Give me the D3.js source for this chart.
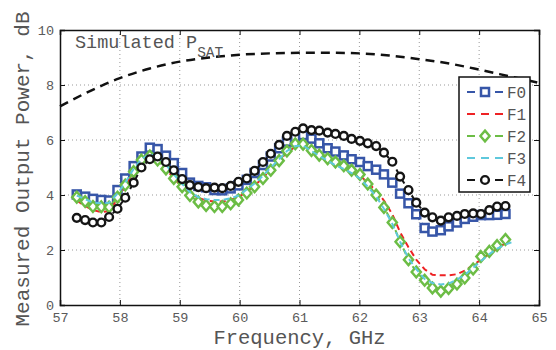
<!DOCTYPE html>
<html>
<head>
<meta charset="utf-8">
<script src="https://cdn.jsdelivr.net/npm/d3@7"></script>
<style>
  body { margin: 0; background: #fff; }
  text { font-family: "Liberation Mono", "DejaVu Sans Mono", monospace; fill: #555; }
</style>
</head>
<body>
<div id="chart"></div>
<script>
// frequency points, GHz
var freq = [57.28, 57.42, 57.55, 57.69, 57.82, 57.96, 58.09, 58.23, 58.36, 58.50,
            58.63, 58.77, 58.90, 59.04, 59.17, 59.31, 59.44, 59.58, 59.71, 59.85,
            59.98, 60.12, 60.25, 60.39, 60.52, 60.66, 60.79, 60.93, 61.06, 61.20,
            61.33, 61.47, 61.60, 61.74, 61.87, 62.01, 62.14, 62.28, 62.41, 62.55,
            62.68, 62.82, 62.95, 63.09, 63.22, 63.36, 63.49, 63.63, 63.76, 63.90,
            64.03, 64.17, 64.30, 64.44, 64.57];

var f0 = [4.02, 3.94, 3.86, 3.82, 3.80, 4.18, 4.60, 5.05, 5.40, 5.72,
          5.67, 5.43, 5.16, 4.80, 4.45, 4.33, 4.28, 4.18, 4.17, 4.24,
          4.35, 4.55, 4.80, 5.09, 5.40, 5.70, 5.94, 6.10, 6.18, 6.05,
          5.88, 5.70, 5.58, 5.44, 5.30, 5.20, 5.05, 4.92, 4.75, 4.45,
          4.05, 3.70, 3.30, 2.80, 2.67, 2.72, 2.86, 3.00, 3.13, 3.21,
          3.27, 3.27, 3.28, 3.31];
var f1 = [3.80, 3.60, 3.45, 3.38, 3.42, 3.85, 4.30, 4.85, 5.20, 5.38,
          5.25, 4.95, 4.60, 4.30, 4.05, 3.90, 3.80, 3.76, 3.76, 3.82,
          3.92, 4.12, 4.35, 4.62, 4.95, 5.25, 5.55, 5.75, 5.82, 5.65,
          5.50, 5.35, 5.20, 5.05, 4.88, 4.70, 4.45, 4.15, 3.80, 3.30,
          2.65, 2.10, 1.65, 1.30, 1.10, 1.08, 1.08, 1.12, 1.25, 1.45,
          1.65, 1.85, 2.05, 2.25];
var f2 = [3.92, 3.76, 3.58, 3.57, 3.56, 3.92, 4.36, 4.85, 5.27, 5.42,
          5.27, 4.95, 4.60, 4.30, 3.98, 3.75, 3.62, 3.58, 3.58, 3.68,
          3.82, 4.07, 4.30, 4.60, 4.90, 5.25, 5.60, 5.86, 5.85, 5.62,
          5.45, 5.32, 5.20, 5.06, 4.90, 4.75, 4.40, 4.00, 3.55, 3.00,
          2.30, 1.65, 1.20, 0.90, 0.62, 0.50, 0.60, 0.76, 0.98, 1.31,
          1.76, 1.95, 2.16, 2.38];
var f3 = [3.98, 3.85, 3.72, 3.70, 3.72, 4.05, 4.45, 4.95, 5.30, 5.50,
          5.40, 5.10, 4.75, 4.40, 4.10, 3.92, 3.85, 3.82, 3.82, 3.88,
          3.98, 4.20, 4.42, 4.70, 5.00, 5.30, 5.60, 5.78, 5.80, 5.60,
          5.42, 5.25, 5.08, 4.95, 4.80, 4.60, 4.30, 3.95, 3.50, 2.95,
          2.30, 1.70, 1.30, 0.95, 0.80, 0.75, 0.78, 0.92, 1.10, 1.35,
          1.60, 1.85, 2.05, 2.20, 2.30];
var f4 = [3.17, 3.09, 3.00, 3.00, 3.20, 3.50, 3.90, 4.45, 5.00, 5.30,
          5.40, 5.20, 4.90, 4.58, 4.36, 4.29, 4.25, 4.27, 4.25, 4.33,
          4.48, 4.60, 4.88, 5.20, 5.50, 5.82, 6.15, 6.30, 6.42, 6.36,
          6.34, 6.27, 6.22, 6.15, 6.04, 5.97, 5.88, 5.78, 5.54, 5.21,
          4.67, 4.18, 3.72, 3.36, 3.19, 3.07, 3.19, 3.24, 3.31, 3.33,
          3.31, 3.45, 3.58, 3.60];

// simulated saturated power curve
var simFreq = [57, 57.5, 58, 58.5, 59, 59.5, 60, 60.5, 61, 61.5, 62, 62.5, 63, 63.5, 64, 64.5, 65];
var simPsat = [7.22, 7.78, 8.25, 8.6, 8.85, 9.0, 9.1, 9.15, 9.17, 9.17, 9.15, 9.07, 8.94, 8.78, 8.56, 8.32, 8.08];

var seriesNames = ["F0", "F1", "F2", "F3", "F4"];
var seriesValues = [f0, f1, f2, f3, f4];
var seriesColors = ["#3756a8", "#ee2224", "#6cbd45", "#5ec8dc", "#151515"];
var seriesMarkers = ["square", "none", "diamond", "none", "circle"];

var xTicks = [57, 58, 59, 60, 61, 62, 63, 64, 65];
var yTicks = [0, 2, 4, 6, 8, 10];

var width = 556, height = 350,
    margin = {top: 30, right: 17, bottom: 45, left: 60};

var svg = d3.select("#chart").append("svg")
    .attr("width", width)
    .attr("height", height);

var w = width - margin.left - margin.right,
    h = height - margin.top - margin.bottom;

var g = svg.append("g").attr("transform", "translate(" + margin.left + "," + margin.top + ")");

var x = d3.scaleLinear().domain([57, 65]).range([0, w]);
var y = d3.scaleLinear().domain([0, 10]).range([h, 0]);

// dotted grid
g.append("g").selectAll("line")
    .data(xTicks.slice(1, -1))
    .enter().append("line")
    .attr("x1", function(d) { return x(d); })
    .attr("x2", function(d) { return x(d); })
    .attr("y1", 0).attr("y2", h)
    .style("stroke", "#999").style("stroke-width", 1).style("stroke-dasharray", "1,3");
g.append("g").selectAll("line")
    .data(yTicks.slice(1, -1))
    .enter().append("line")
    .attr("y1", function(d) { return y(d); })
    .attr("y2", function(d) { return y(d); })
    .attr("x1", 0).attr("x2", w)
    .style("stroke", "#999").style("stroke-width", 1).style("stroke-dasharray", "1,3");

// axes with inward ticks
var xAxis = g.append("g").attr("transform", "translate(0," + h + ")")
    .call(d3.axisBottom(x).tickValues(xTicks).tickSize(-5).tickPadding(7).tickFormat(d3.format("d")));
var xTop = g.append("g")
    .call(d3.axisTop(x).tickValues(xTicks).tickSize(-5).tickFormat(""));
var yAxis = g.append("g")
    .call(d3.axisLeft(y).tickValues(yTicks).tickSize(-5).tickPadding(6).tickFormat(d3.format("d")));
var yRight = g.append("g").attr("transform", "translate(" + w + ",0)")
    .call(d3.axisRight(y).tickValues(yTicks).tickSize(-5).tickFormat(""));

[xAxis, xTop, yAxis, yRight].forEach(function(a) {
    a.select(".domain").style("stroke", "#111").style("stroke-width", 1.5);
    a.selectAll(".tick line").style("stroke", "#111").style("stroke-width", 1);
    a.selectAll("text").style("font-size", "13.5px").style("fill", "#5a5a5a")
        .style("font-family", "'Liberation Mono', monospace");
});

// simulated Psat
var simLine = d3.line()
    .curve(d3.curveMonotoneX)
    .x(function(d, i) { return x(simFreq[i]); })
    .y(function(d) { return y(d); });

g.append("path")
    .datum(simPsat)
    .attr("d", simLine)
    .style("fill", "none")
    .style("stroke", "#111")
    .style("stroke-width", 2.5)
    .style("stroke-dasharray", "9,6");

var sim = g.append("text")
    .attr("x", 15)
    .attr("y", 18)
    .style("font-size", "18.5px");
sim.append("tspan").text("Simulated P");
sim.append("tspan").attr("dy", 9).style("font-size", "14.5px").text("SAT");

// measured series
var line = d3.line()
    .defined(function(d) { return d != null; })
    .x(function(d, i) { return x(freq[i]); })
    .y(function(d) { return y(d); });

function drawMarker(sel, type, color) {
    if (type === "square") {
        sel.append("rect")
            .attr("x", -4).attr("y", -4)
            .attr("width", 8).attr("height", 8)
            .style("fill", "#fff").style("stroke", color).style("stroke-width", 2.5);
    } else if (type === "diamond") {
        sel.append("path")
            .attr("d", "M0,-5.4L4.6,0L0,5.4L-4.6,0Z")
            .style("fill", "#fff").style("stroke", color).style("stroke-width", 2.4);
    } else if (type === "circle") {
        sel.append("circle")
            .attr("r", 3.9)
            .style("fill", "#fff").style("stroke", color).style("stroke-width", 2.4);
    }
}

seriesValues.forEach(function(vals, s) {
    var color = seriesColors[s];
    g.append("path")
        .datum(vals)
        .attr("d", line)
        .style("fill", "none")
        .style("stroke", color)
        .style("stroke-width", 2)
        .style("stroke-dasharray", "6,4");

    if (seriesMarkers[s] !== "none") {
        g.append("g").selectAll("g")
            .data(vals)
            .enter().append("g")
            .attr("transform", function(d, i) { return "translate(" + x(freq[i]) + "," + y(d) + ")"; })
            .each(function() { drawMarker(d3.select(this), seriesMarkers[s], color); });
    }
});

// legend
var legend = g.append("g").attr("transform", "translate(" + (x(65) - 80) + ",47)");
legend.append("rect")
    .attr("width", 71).attr("height", 115)
    .style("fill", "#fff").style("stroke", "#111").style("stroke-width", 1.5);

var item = legend.selectAll(".item")
    .data(seriesNames)
    .enter().append("g")
    .attr("class", "item")
    .attr("transform", function(d, i) { return "translate(0," + (15 + i * 22) + ")"; });

item.append("line")
    .attr("x1", 8).attr("x2", 44)
    .style("stroke", function(d, i) { return seriesColors[i]; })
    .style("stroke-width", 2)
    .style("stroke-dasharray", "8,6");

item.each(function(d, i) {
    var m = d3.select(this).append("g").attr("transform", "translate(26,0)");
    drawMarker(m, seriesMarkers[i], seriesColors[i]);
});

item.append("text")
    .attr("x", 48)
    .attr("dy", ".35em")
    .style("font-size", "16px")
    .text(function(d) { return d; });

// axis titles
svg.append("text")
    .attr("x", margin.left + w / 2)
    .attr("y", 344)
    .attr("text-anchor", "middle")
    .style("font-size", "20.5px")
    .text("Frequency, GHz");

svg.append("text")
    .attr("transform", "translate(29,169) rotate(-90)")
    .attr("text-anchor", "middle")
    .style("font-size", "21px")
    .text("Measured Output Power, dB");
</script>
</body>
</html>
